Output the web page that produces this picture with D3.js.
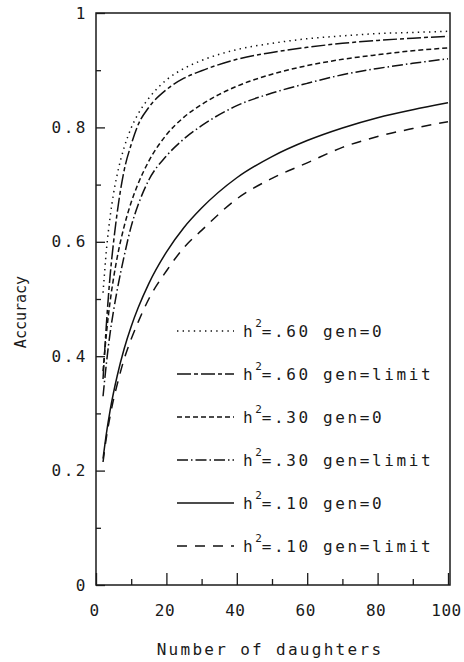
<!DOCTYPE html>
<html>
<head>
<meta charset="utf-8">
<script src="https://d3js.org/d3.v7.min.js"></script>
<style>
  body { margin: 0; background: #fff; }
  text { font-family: "DejaVu Sans Mono", monospace; fill: #1a1a1a; }
</style>
</head>
<body>
<svg width="464" height="662"></svg>
<script>
// accuracy of sire evaluation vs number of daughters
const daughters = [2, 3, 4, 5, 6, 8, 10, 12, 15, 20, 25, 30, 40, 50, 60, 70, 80, 90, 100];

const acc60gen0 = [0.511, 0.588, 0.643, 0.685, 0.717, 0.765, 0.799, 0.824, 0.851, 0.883, 0.903, 0.917, 0.936, 0.947, 0.955, 0.960, 0.964, 0.966, 0.968];
const acc60lim  = [0.360, 0.460, 0.540, 0.600, 0.650, 0.725, 0.770, 0.805, 0.835, 0.866, 0.886, 0.899, 0.919, 0.931, 0.940, 0.947, 0.952, 0.956, 0.959];
const acc30gen0 = [0.374, 0.442, 0.495, 0.537, 0.572, 0.627, 0.669, 0.702, 0.741, 0.787, 0.818, 0.840, 0.872, 0.893, 0.908, 0.919, 0.927, 0.934, 0.939];
const acc30lim  = [0.330, 0.390, 0.440, 0.480, 0.515, 0.575, 0.627, 0.665, 0.708, 0.750, 0.780, 0.803, 0.838, 0.860, 0.877, 0.892, 0.903, 0.912, 0.920];
const acc10gen0 = [0.221, 0.267, 0.305, 0.337, 0.365, 0.413, 0.452, 0.485, 0.527, 0.582, 0.625, 0.659, 0.712, 0.749, 0.777, 0.799, 0.817, 0.831, 0.843];
const acc10lim  = [0.215, 0.260, 0.295, 0.325, 0.350, 0.395, 0.430, 0.460, 0.500, 0.549, 0.590, 0.620, 0.675, 0.711, 0.738, 0.765, 0.784, 0.798, 0.810];

const series = [acc60gen0, acc60lim, acc30gen0, acc30lim, acc10gen0, acc10lim];
const herit = [".60", ".60", ".30", ".30", ".10", ".10"];
const gens = ["0", "limit", "0", "limit", "0", "limit"];

const xTicksMajor = [0, 20, 40, 60, 80, 100];
const xTicksMinor = [10, 30, 50, 70, 90];
const yTicksMajor = [0, 0.2, 0.4, 0.6, 0.8, 1];
const yTicksMinor = [0.1, 0.3, 0.5, 0.7, 0.9];

// line patterns for each curve
const dashes = ["1.4,4.2", "14,3,4,3", "5,3", "11,3,1.5,3", null, "10,8"];

const svg = d3.select('svg');
const plotL = 96, plotR = 448, plotT = 13, plotB = 585;

const x = d3.scaleLinear().domain([0, 100]).range([plotL, plotR]);
const y = d3.scaleLinear().domain([0, 1]).range([plotB, plotT]);

// frame
svg.append('rect')
  .attr('x', plotL).attr('y', plotT)
  .attr('width', plotR + 2 - plotL).attr('height', plotB - plotT)
  .attr('fill', 'none')
  .attr('stroke', '#1a1a1a')
  .attr('stroke-width', 1.5);

// x axis ticks point inward
const xMajor = svg.append('g')
  .attr('transform', `translate(0,${plotB})`)
  .call(d3.axisBottom(x).tickValues(xTicksMajor).tickSize(-12).tickPadding(20).tickFormat(d3.format('d')));
const xMinor = svg.append('g')
  .attr('transform', `translate(0,${plotB})`)
  .call(d3.axisBottom(x).tickValues(xTicksMinor).tickSize(-6).tickFormat(''));

// y axis
const yMajor = svg.append('g')
  .attr('transform', `translate(${plotL},0)`)
  .call(d3.axisLeft(y).tickValues(yTicksMajor).tickSize(-9).tickPadding(8)
    .tickFormat(d => (d === 0 || d === 1) ? String(d) : d.toFixed(1)));
const yMinor = svg.append('g')
  .attr('transform', `translate(${plotL},0)`)
  .call(d3.axisLeft(y).tickValues(yTicksMinor).tickSize(-5).tickFormat(''));

[xMajor, xMinor, yMajor, yMinor].forEach(g => {
  g.select('.domain').remove();
  g.selectAll('line').attr('stroke', '#1a1a1a').attr('stroke-width', 1.3);
  g.selectAll('text')
    .attr('font-family', '"DejaVu Sans Mono", monospace')
    .attr('font-size', 16)
    .attr('letter-spacing', 2.5)
    .attr('fill', '#1a1a1a');
});
// x labels a bit tighter so "100" stays inside
xMajor.selectAll('text').attr('letter-spacing', 0.5).attr('dx', -2);

// curves
const line = d3.line()
  .x((d, i) => x(daughters[i]))
  .y(d => y(d))
  .curve(d3.curveMonotoneX);

svg.append('g')
  .selectAll('path')
  .data(series)
  .enter()
  .append('path')
    .attr('d', d => line(d))
    .attr('fill', 'none')
    .attr('stroke', '#111')
    .attr('stroke-width', 1.5)
    .attr('stroke-dasharray', (d, i) => dashes[i]);

// legend
const legend = svg.append('g');
const rowY = i => 337 + i * 43;
legend.selectAll('line')
  .data(series)
  .enter()
  .append('line')
    .attr('x1', 177).attr('x2', 234)
    .attr('y1', (d, i) => rowY(i) - 6)
    .attr('y2', (d, i) => rowY(i) - 6)
    .attr('stroke', '#111')
    .attr('stroke-width', 1.5)
    .attr('stroke-dasharray', (d, i) => dashes[i]);

const labels = legend.selectAll('text')
  .data(herit)
  .enter()
  .append('text')
    .attr('x', 243)
    .attr('y', (d, i) => rowY(i))
    .attr('font-size', 16)
    .attr('letter-spacing', 2.6);
labels.append('tspan').text('h');
labels.append('tspan').text('2').attr('dy', -10).attr('font-size', 11).attr('letter-spacing', 0);
labels.append('tspan').text((d, i) => `=${d} gen=${gens[i]}`).attr('dy', 10);

// axis titles
svg.append('text')
  .attr('transform', 'translate(26,312) rotate(-90)')
  .attr('text-anchor', 'middle')
  .attr('font-size', 15)
  .text('Accuracy');

svg.append('text')
  .attr('x', 270).attr('y', 655)
  .attr('text-anchor', 'middle')
  .attr('font-size', 16)
  .attr('letter-spacing', 2.3)
  .text('Number of daughters');
</script>
</body>
</html>
